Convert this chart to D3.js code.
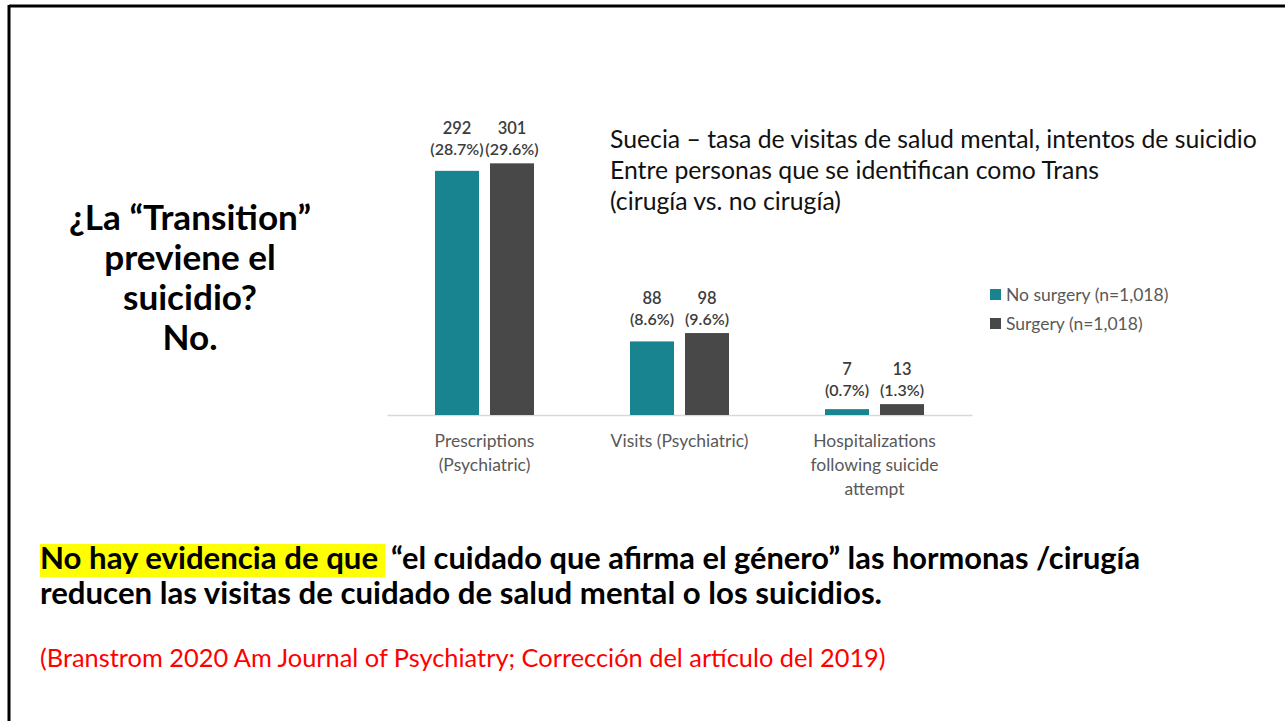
<!DOCTYPE html>
<html>
<head>
<meta charset="utf-8">
<script src="https://cdn.jsdelivr.net/npm/d3@7"></script>
<style>
  body { margin: 0; background: #fff; }
  svg { display: block; font-family: Lato, "Open Sans", sans-serif; }
</style>
</head>
<body>
<div id="slide"></div>
<script>
// data
var categories = ["Prescriptions", "Visits", "Hospitalizations"];
var categoryLines = [["Prescriptions", "(Psychiatric)"], ["Visits (Psychiatric)"], ["Hospitalizations", "following suicide", "attempt"]];
var seriesNames = ["No surgery (n=1,018)", "Surgery (n=1,018)"];
var noSurgery = [292, 88, 7];
var surgery = [301, 98, 13];
var noSurgeryPct = ["(28.7%)", "(8.6%)", "(0.7%)"];
var surgeryPct = ["(29.6%)", "(9.6%)", "(1.3%)"];
var colors = ["#17848f", "#484848"];

var titleLines = ["Suecia \u2013 tasa de visitas de salud mental, intentos de suicidio",
                  "Entre personas que se identifican como Trans",
                  "(cirug\u00eda vs. no cirug\u00eda)"];
var questionLines = ["\u00bfLa \u201cTransition\u201d", "previene el", "suicidio?", "No."];
var highlightText = "No hay evidencia de que";
var conclusion1 = "\u201cel cuidado que afirma el g\u00e9nero\u201d las hormonas /cirug\u00eda";
var conclusion2 = "reducen las visitas de cuidado de salud mental o los suicidios.";
var citation = "(Branstrom 2020 Am Journal of Psychiatry; Correcci\u00f3n del art\u00edculo del 2019)";

var W = 1285, H = 721;
var svg = d3.select("#slide").append("svg").attr("width", W).attr("height", H);

// scale the font so the text spans the wanted width, return the new size
function fitWidth(sel, target) {
    let fs = parseFloat(sel.attr("font-size"));
    let w = sel.node().getComputedTextLength();
    let nfs = +(fs * target / w).toFixed(2);
    sel.attr("font-size", nfs);
    return nfs;
}

// slide frame (only top and left edges show)
svg.append("line").attr("x1", 9).attr("x2", W).attr("y1", 6).attr("y2", 6)
    .attr("stroke", "#000").attr("stroke-width", 3);
svg.append("line").attr("x1", 9).attr("x2", 9).attr("y1", 5).attr("y2", H)
    .attr("stroke", "#000").attr("stroke-width", 3);

// left question
var question = svg.append("g").selectAll("text")
    .data(questionLines)
    .join("text")
    .attr("x", 190)
    .attr("y", (d, i) => 230 + i * 40)
    .attr("text-anchor", "middle")
    .attr("font-size", 28)
    .attr("font-weight", "bold")
    .attr("fill", "#000")
    .text(d => d);
question.attr("font-size", fitWidth(d3.select(question.nodes()[0]), 242));

// chart
var baseY = 415;
var x0 = d3.scaleBand().domain(categories).range([387, 972]).padding(0);
var x1 = d3.scaleBand().domain(seriesNames).range([0, 99]).paddingInner(0.2);
var y = d3.scaleLinear().domain([0, 360]).range([baseY, 114]);

var chart = svg.append("g");

var xAxis = chart.append("g")
    .attr("transform", "translate(0," + baseY + ")")
    .call(d3.axisBottom(x0).tickSize(0).tickPadding(0));
xAxis.select(".domain").attr("stroke", "#d9d9d9").attr("stroke-width", 1.5);
xAxis.selectAll(".tick text").remove();
xAxis.selectAll(".tick").each(function(d, i) {
    let t = d3.select(this).append("text")
        .attr("fill", "#595959")
        .attr("font-size", 17.5)
        .attr("font-family", "Lato, sans-serif")
        .attr("text-anchor", "middle");
    t.selectAll("tspan")
        .data(categoryLines[i])
        .join("tspan")
        .attr("x", 0)
        .attr("y", (l, j) => 32 + j * 24)
        .text(l => l);
});

var groups = chart.selectAll(".grp")
    .data(categories)
    .join("g")
    .attr("class", "grp")
    .attr("transform", d => "translate(" + (x0(d) + x0.bandwidth() / 2 - 49.5) + ",0)");

groups.each(function(c, i) {
    let g = d3.select(this);
    let vals = [noSurgery[i], surgery[i]];
    let pcts = [noSurgeryPct[i], surgeryPct[i]];
    let top = y(d3.max(vals));
    vals.forEach(function(v, k) {
        g.append("rect")
            .attr("x", x1(seriesNames[k]))
            .attr("y", y(v))
            .attr("width", x1.bandwidth())
            .attr("height", baseY - y(v))
            .attr("fill", colors[k]);
        let cx = x1(seriesNames[k]) + x1.bandwidth() / 2;
        g.append("text")
            .attr("x", cx).attr("y", top - 29)
            .attr("text-anchor", "middle")
            .attr("font-size", 16.5).attr("font-weight", 600)
            .attr("fill", "#3c3c3c")
            .text(v);
        g.append("text")
            .attr("x", cx).attr("y", top - 8)
            .attr("text-anchor", "middle")
            .attr("font-size", 16).attr("font-weight", 600)
            .attr("fill", "#3c3c3c")
            .text(pcts[k]);
    });
});

// chart title
var title = svg.append("g").selectAll("text")
    .data(titleLines)
    .join("text")
    .attr("x", 610)
    .attr("y", (d, i) => 148 + i * 31)
    .attr("font-size", 20)
    .attr("fill", "#111")
    .text(d => d);
title.attr("font-size", fitWidth(d3.select(title.nodes()[0]), 647));

// legend
var legend = svg.append("g").attr("transform", "translate(990,289)");
seriesNames.forEach(function(s, k) {
    legend.append("rect")
        .attr("x", 0).attr("y", k * 29)
        .attr("width", 11).attr("height", 11)
        .attr("fill", colors[k]);
    legend.append("text")
        .attr("x", 16).attr("y", k * 29 + 12)
        .attr("font-size", 17.5)
        .attr("fill", "#595959")
        .text(s);
});

// conclusion
var hlRect = svg.append("rect").attr("fill", "#ffff00")
    .attr("x", 40).attr("y", 544).attr("height", 33);
var line2 = svg.append("text").attr("x", 40).attr("y", 604)
    .attr("font-size", 24).attr("font-weight", "bold").attr("fill", "#000")
    .text(conclusion2);
var fs = fitWidth(line2, 842);
var hl = svg.append("text").attr("x", 40).attr("y", 569)
    .attr("font-size", fs).attr("font-weight", "bold").attr("fill", "#000")
    .text(highlightText);
var hlEnd = 40 + hl.node().getComputedTextLength();
hlRect.attr("width", hlEnd - 40 + 7);
var rest = svg.append("text").attr("x", hlEnd + 13).attr("y", 569)
    .attr("font-size", fs).attr("font-weight", "bold").attr("fill", "#000")
    .text(conclusion1);
fitWidth(rest, 1140 - hlEnd - 13);

var cite = svg.append("text").attr("x", 40).attr("y", 667)
    .attr("font-size", 19).attr("fill", "#ff0000")
    .text(citation);
fitWidth(cite, 846);
</script>
</body>
</html>
